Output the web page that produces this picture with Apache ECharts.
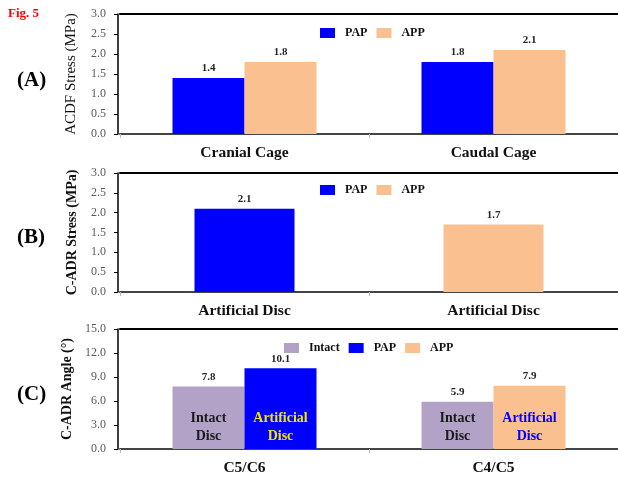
<!DOCTYPE html>
<html>
<head>
<meta charset="utf-8">
<script src="https://cdn.jsdelivr.net/npm/echarts@6/dist/echarts.min.js"></script>
<style>
  html, body { margin: 0; padding: 0; background: #fff; }
  #chart { width: 618px; height: 479px; }
</style>
</head>
<body>
<div id="chart"></div>
<script>
// Panel (A): ACDF cage stress
var categoriesA = ['Cranial Cage', 'Caudal Cage'];
var papA = [1.4, 1.8];
var appA = [1.8, 2.1];

// Panel (B): C-ADR stress
var categoriesB = ['Artificial Disc', 'Artificial Disc'];
var papB = [2.1, null];
var appB = [null, 1.7];

// Panel (C): C-ADR angle
var categoriesC = ['C5/C6', 'C4/C5'];
var intactC = [7.8, 5.9];
var papC = [10.1, null];
var appC = [null, 7.9];

var stressTicks = { min: 0, max: 3, interval: 0.5 };
var angleTicks = { min: 0, max: 15, interval: 3 };

var SERIF = '"Liberation Serif", "DejaVu Serif", serif';
var BLUE = '#0000ff';
var PEACH = '#fac090';
var LAVENDER = '#b3a2c7';

function valueLabel(size, weight) {
  return {
    show: true,
    position: 'top',
    distance: 4,
    fontFamily: SERIF,
    fontSize: size,
    fontWeight: weight,
    color: '#262626',
    formatter: function (p) { return p.value == null ? '' : Number(p.value).toFixed(1); }
  };
}

function bottomAxis(gridIndex, cats) {
  return {
    type: 'category',
    gridIndex: gridIndex,
    data: cats,
    position: 'bottom',
    axisLine: { show: true, lineStyle: { color: '#444', width: 2 } },
    axisTick: { show: true, alignWithLabel: false, length: 4, lineStyle: { color: '#bbb', width: 1 } },
    axisLabel: {
      fontFamily: SERIF, fontSize: 15.5, fontWeight: 'bold', color: '#111', margin: 11,
      interval: 0
    }
  };
}

function topAxis(gridIndex, cats) {
  return {
    type: 'category',
    gridIndex: gridIndex,
    data: cats,
    position: 'top',
    axisLine: { show: true, lineStyle: { color: '#000', width: 2 } },
    axisTick: { show: false },
    axisLabel: { show: false }
  };
}

function leftAxis(gridIndex, ticks, name, nameWeight, nameSize) {
  return {
    type: 'value',
    gridIndex: gridIndex,
    offset: 2,
    min: ticks.min,
    max: ticks.max,
    interval: ticks.interval,
    name: name,
    nameLocation: 'middle',
    nameGap: 39,
    nameRotate: 90,
    nameTextStyle: { fontFamily: SERIF, fontSize: nameSize, fontWeight: nameWeight, color: '#111' },
    axisLine: { show: true, lineStyle: { color: '#000', width: 1.5 } },
    axisTick: { show: true, inside: false, length: 4, lineStyle: { color: '#000', width: 1 } },
    splitLine: { show: false },
    axisLabel: {
      fontFamily: SERIF, fontSize: 12, color: '#595959', margin: 12,
      formatter: function (v) { return v.toFixed(1); }
    }
  };
}

function legendAt(left, top, names) {
  return {
    left: left,
    top: top,
    padding: 0,
    data: names,
    icon: 'rect',
    itemWidth: 15,
    itemHeight: 10,
    itemGap: 9,
    selectedMode: false,
    textStyle: { fontFamily: SERIF, fontSize: 12, fontWeight: 'bold', color: '#111', padding: [0, 0, 0, 5] }
  };
}

function innerLabel(values, text, color) {
  var pts = [];
  values.forEach(function (v, i) {
    if (v != null) pts.push({ coord: [i, 0] });
  });
  return {
    symbol: 'rect',
    symbolSize: 1,
    silent: true,
    animation: false,
    itemStyle: { color: 'rgba(0,0,0,0)' },
    label: {
      show: true,
      position: 'top',
      distance: 3,
      formatter: text,
      fontFamily: SERIF,
      fontSize: 14,
      fontWeight: 'bold',
      lineHeight: 18,
      color: color,
      align: 'center'
    },
    data: pts
  };
}

var chart = echarts.init(document.getElementById('chart'), null, { renderer: 'canvas' });

var option = {
  animation: false,
  backgroundColor: '#ffffff',
  title: [
    { text: 'Fig. 5', left: 8, top: 7, padding: 0,
      textStyle: { fontFamily: SERIF, fontSize: 13, fontWeight: 'bold', color: '#ff0000' } },
    { text: '(A)', left: 17, top: 70, padding: 0,
      textStyle: { fontFamily: SERIF, fontSize: 21, fontWeight: 'bold', color: '#000' } },
    { text: '(B)', left: 17, top: 227, padding: 0,
      textStyle: { fontFamily: SERIF, fontSize: 21, fontWeight: 'bold', color: '#000' } },
    { text: '(C)', left: 17, top: 384, padding: 0,
      textStyle: { fontFamily: SERIF, fontSize: 21, fontWeight: 'bold', color: '#000' } }
  ],
  legend: [
    legendAt(320, 27, ['PAP', 'APP']),
    legendAt(320, 184, ['PAP', 'APP']),
    legendAt(284, 342, ['Intact', 'PAP', 'APP'])
  ],
  grid: [
    { left: 120, right: -2, top: 14, bottom: 345 },
    { left: 120, right: -2, top: 173, bottom: 187 },
    { left: 120, right: -2, top: 329, bottom: 30 }
  ],
  xAxis: [
    bottomAxis(0, categoriesA), topAxis(0, categoriesA),
    bottomAxis(1, categoriesB), topAxis(1, categoriesB),
    bottomAxis(2, categoriesC), topAxis(2, categoriesC)
  ],
  yAxis: [
    leftAxis(0, stressTicks, 'ACDF Stress (MPa)', 'normal', 15),
    leftAxis(1, stressTicks, 'C-ADR Stress (MPa)', 'bold', 14),
    leftAxis(2, angleTicks, 'C-ADR Angle (°)', 'bold', 14)
  ],
  series: [
    // (A)
    { type: 'bar', name: 'PAP', xAxisIndex: 0, yAxisIndex: 0, data: papA,
      barWidth: 72, barGap: '0%', itemStyle: { color: BLUE }, label: valueLabel(11, 'bold') },
    { type: 'bar', name: 'APP', xAxisIndex: 0, yAxisIndex: 0, data: appA,
      barWidth: 72, barGap: '0%', itemStyle: { color: PEACH }, label: valueLabel(11, 'bold') },
    // (B)
    { type: 'bar', name: 'PAP', xAxisIndex: 2, yAxisIndex: 1, data: papB, stack: 'disc',
      barWidth: 100, itemStyle: { color: BLUE }, label: valueLabel(11, 'bold') },
    { type: 'bar', name: 'APP', xAxisIndex: 2, yAxisIndex: 1, data: appB, stack: 'disc',
      barWidth: 100, itemStyle: { color: PEACH }, label: valueLabel(11, 'bold') },
    // (C)
    { type: 'bar', name: 'Intact', xAxisIndex: 4, yAxisIndex: 2, data: intactC,
      barWidth: 72, barGap: '0%', itemStyle: { color: LAVENDER }, label: valueLabel(11, 'bold'),
      markPoint: innerLabel(intactC, 'Intact\nDisc', '#1a1a1a') },
    { type: 'bar', name: 'PAP', xAxisIndex: 4, yAxisIndex: 2, data: papC, stack: 'adr',
      barWidth: 72, barGap: '0%', itemStyle: { color: BLUE }, label: valueLabel(11, 'bold'),
      markPoint: innerLabel(papC, 'Artificial\nDisc', '#f2e600') },
    { type: 'bar', name: 'APP', xAxisIndex: 4, yAxisIndex: 2, data: appC, stack: 'adr',
      barWidth: 72, barGap: '0%', itemStyle: { color: PEACH }, label: valueLabel(11, 'bold'),
      markPoint: innerLabel(appC, 'Artificial\nDisc', '#0000ff') }
  ]
};

chart.setOption(option);
</script>
</body>
</html>
